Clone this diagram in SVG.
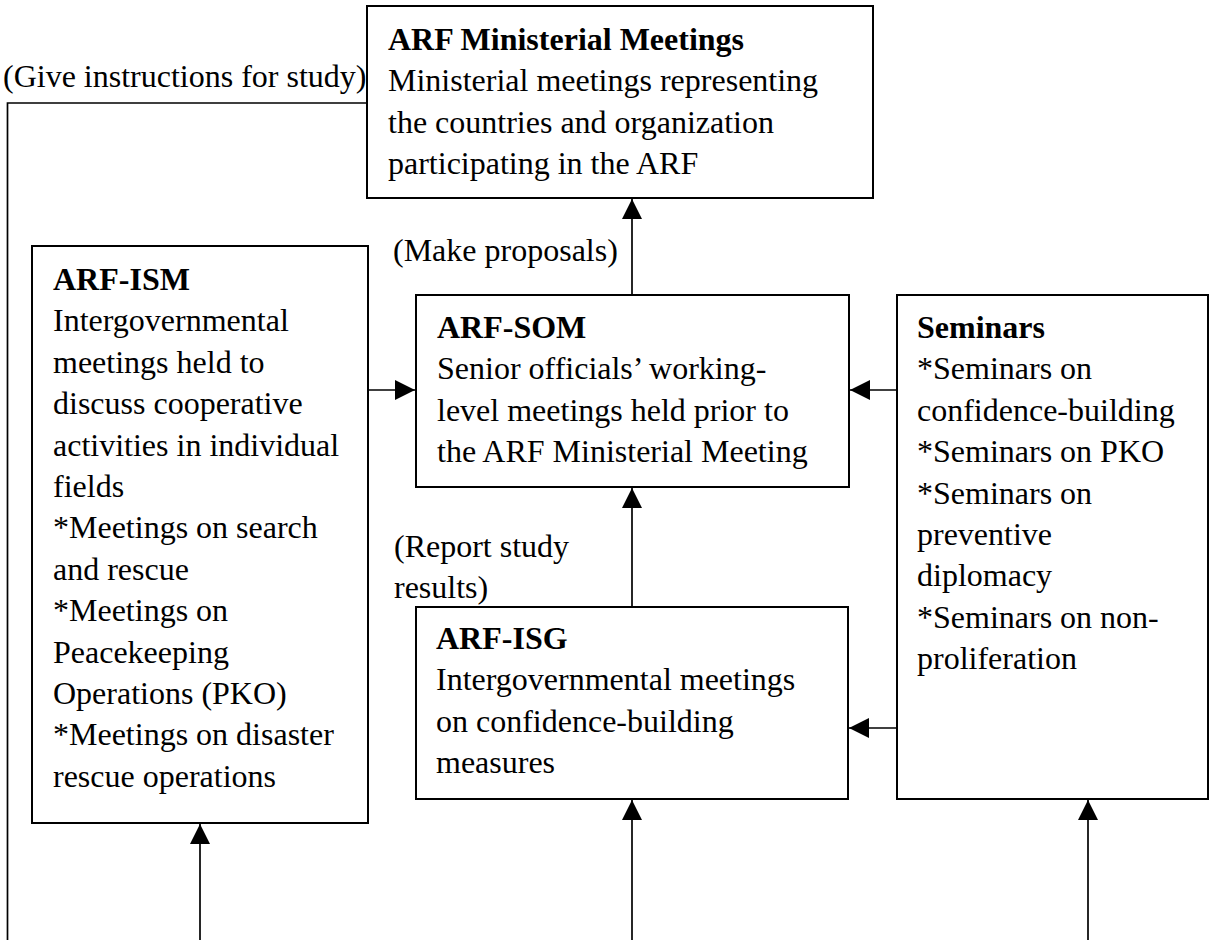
<svg xmlns="http://www.w3.org/2000/svg" width="1215" height="940" viewBox="0 0 1215 940">
<style>
  text { font-family: "Liberation Serif", "Times New Roman", serif; font-size: 32px; fill: #000; }
  .b { font-weight: bold; }
  .box { fill: #fff; stroke: #000; stroke-width: 2; }
  .con { fill: none; stroke: #000; stroke-width: 1.7; }
</style>
<defs>
  <marker id="arr" markerUnits="userSpaceOnUse" markerWidth="20" markerHeight="20" refX="20" refY="10" orient="auto">
    <path d="M0,0 L20,10 L0,20 Z" fill="#000"/>
  </marker>
</defs>
<rect width="1215" height="940" fill="#fff"/>

<g id="connectors">
  <path class="con" d="M7.5,940 V103 H367"/>
  <path class="con" d="M632,295 V199" marker-end="url(#arr)"/>
  <path class="con" d="M368,390 H415" marker-end="url(#arr)"/>
  <path class="con" d="M897,390 H850" marker-end="url(#arr)"/>
  <path class="con" d="M632,607 V488" marker-end="url(#arr)"/>
  <path class="con" d="M897,728 H849" marker-end="url(#arr)"/>
  <path class="con" d="M200,940 V824" marker-end="url(#arr)"/>
  <path class="con" d="M632,940 V800" marker-end="url(#arr)"/>
  <path class="con" d="M1088,940 V800" marker-end="url(#arr)"/>
</g>

<g id="labels">
  <text x="3" y="87">(Give instructions for study)</text>
  <text x="393" y="261">(Make proposals)</text>
  <text x="394" y="557"><tspan x="394">(Report study</tspan><tspan x="394" dy="41.4">results)</tspan></text>
</g>

<g id="ministerial">
  <rect class="box" x="367" y="6" width="506" height="192"/>
  <text x="388" y="50"><tspan x="388" class="b">ARF Ministerial Meetings</tspan><tspan x="388" dy="41.4">Ministerial meetings representing</tspan><tspan x="388" dy="41.4">the countries and organization</tspan><tspan x="388" dy="41.4">participating in the ARF</tspan></text>
</g>

<g id="ism">
  <rect class="box" x="32" y="246" width="336" height="577"/>
  <text x="53" y="290"><tspan x="53" class="b">ARF-ISM</tspan><tspan x="53" dy="41.4">Intergovernmental</tspan><tspan x="53" dy="41.4">meetings held to</tspan><tspan x="53" dy="41.4">discuss cooperative</tspan><tspan x="53" dy="41.4">activities in individual</tspan><tspan x="53" dy="41.4">fields</tspan><tspan x="53" dy="41.4">*Meetings on search</tspan><tspan x="53" dy="41.4">and rescue</tspan><tspan x="53" dy="41.4">*Meetings on</tspan><tspan x="53" dy="41.4">Peacekeeping</tspan><tspan x="53" dy="41.4">Operations (PKO)</tspan><tspan x="53" dy="41.4">*Meetings on disaster</tspan><tspan x="53" dy="41.4">rescue operations</tspan></text>
</g>

<g id="som">
  <rect class="box" x="416" y="295" width="433" height="192"/>
  <text x="437" y="338"><tspan x="437" class="b">ARF-SOM</tspan><tspan x="437" dy="41.4">Senior officials’ working-</tspan><tspan x="437" dy="41.4">level meetings held prior to</tspan><tspan x="437" dy="41.4">the ARF Ministerial Meeting</tspan></text>
</g>

<g id="seminars">
  <rect class="box" x="897" y="295" width="311" height="504"/>
  <text x="917" y="338"><tspan x="917" class="b">Seminars</tspan><tspan x="917" dy="41.4">*Seminars on</tspan><tspan x="917" dy="41.4">confidence-building</tspan><tspan x="917" dy="41.4">*Seminars on PKO</tspan><tspan x="917" dy="41.4">*Seminars on</tspan><tspan x="917" dy="41.4">preventive</tspan><tspan x="917" dy="41.4">diplomacy</tspan><tspan x="917" dy="41.4">*Seminars on non-</tspan><tspan x="917" dy="41.4">proliferation</tspan></text>
</g>

<g id="isg">
  <rect class="box" x="416" y="607" width="432" height="192"/>
  <text x="436" y="649"><tspan x="436" class="b">ARF-ISG</tspan><tspan x="436" dy="41.4">Intergovernmental meetings</tspan><tspan x="436" dy="41.4">on confidence-building</tspan><tspan x="436" dy="41.4">measures</tspan></text>
</g>
</svg>
